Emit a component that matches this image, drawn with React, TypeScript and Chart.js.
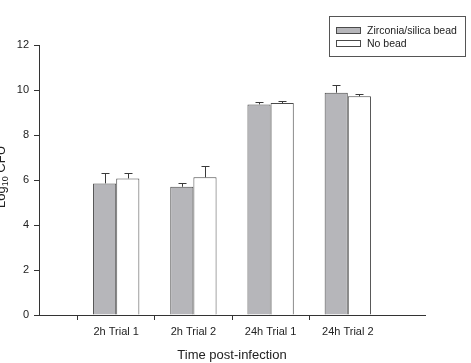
import React, { useEffect, useRef } from "react";
import { Chart, registerables } from "chart.js";

Chart.register(...registerables);

const categories = ["", "2h Trial 1", "2h Trial 2", "24h Trial 1", "24h Trial 2", ""];
const beadValues = [null, 5.85, 5.7, 9.36, 9.88, null];
const beadErrors = [0, 0.45, 0.15, 0.09, 0.34, 0];
const noBeadValues = [null, 6.07, 6.12, 9.42, 9.72, null];
const noBeadErrors = [0, 0.25, 0.52, 0.1, 0.08, 0];
const yTicks = [0, 2, 4, 6, 8, 10, 12];
const legendLabels = ["Zirconia/silica bead", "No bead"];
const xTitle = "Time post-infection";

const FONT = "'Liberation Sans', Arial, sans-serif";
const GRAY = "#b6b6ba";
const EDGE = "#4a4a4a";

const extrasPlugin = {
  id: "extras",
  afterDatasetsDraw(chart: any) {
    const ctx = chart.ctx;
    const errs = [beadErrors, noBeadErrors];
    ctx.save();
    ctx.strokeStyle = "#3a3a3a";
    ctx.lineWidth = 1;
    chart.data.datasets.forEach((ds: any, di: number) => {
      const meta = chart.getDatasetMeta(di);
      meta.data.forEach((bar: any, i: number) => {
        const v = ds.data[i];
        if (v == null) return;
        const e = errs[di][i];
        const x = Math.round(bar.x) + 0.5;
        const y0 = chart.scales.y.getPixelForValue(v);
        const y1 = Math.round(chart.scales.y.getPixelForValue(v + e)) + 0.5;
        ctx.beginPath();
        ctx.moveTo(x, y0);
        ctx.lineTo(x, y1);
        ctx.moveTo(x - 4, y1);
        ctx.lineTo(x + 4, y1);
        ctx.stroke();
      });
    });
    ctx.restore();
  },
  afterDraw(chart: any) {
    const ctx = chart.ctx;
    ctx.save();
    // legend box
    ctx.strokeStyle = "#555";
    ctx.lineWidth = 1;
    ctx.fillStyle = "#fff";
    ctx.fillRect(329.5, 16.5, 136, 40);
    ctx.strokeRect(329.5, 16.5, 136, 40);
    const fills = [GRAY, "#fff"];
    const ys = [27.5, 40.5];
    ctx.font = `10.5px ${FONT}`;
    ctx.textBaseline = "middle";
    legendLabels.forEach((lab, i) => {
      ctx.fillStyle = fills[i];
      ctx.fillRect(336.5, ys[i], 24, 6);
      ctx.strokeStyle = EDGE;
      ctx.strokeRect(336.5, ys[i], 24, 6);
      ctx.fillStyle = "#222";
      ctx.fillText(lab, 367, ys[i] + 3.5);
    });
    // y axis title (cut off at left edge)
    ctx.translate(5, 208);
    ctx.rotate(-Math.PI / 2);
    ctx.fillStyle = "#222";
    ctx.textBaseline = "alphabetic";
    ctx.font = `13px ${FONT}`;
    ctx.fillText("Log", 0, 0);
    let w = ctx.measureText("Log").width;
    ctx.font = `9px ${FONT}`;
    ctx.fillText("10", w, 3);
    w += ctx.measureText("10").width;
    ctx.font = `13px ${FONT}`;
    ctx.fillText(" CFU", w, 0);
    ctx.restore();
  },
};

export default function App() {
  const ref = useRef<HTMLCanvasElement | null>(null);
  useEffect(() => {
    document.body.style.margin = "0";
    const chart = new Chart(ref.current!, {
      type: "bar",
      data: {
        labels: categories,
        datasets: [
          {
            label: legendLabels[0],
            data: beadValues as any,
            backgroundColor: GRAY,
            borderColor: EDGE,
            borderWidth: 1,
            borderSkipped: "bottom",
            categoryPercentage: 0.6,
            barPercentage: 1,
          },
          {
            label: legendLabels[1],
            data: noBeadValues as any,
            backgroundColor: "#ffffff",
            borderColor: EDGE,
            borderWidth: 1,
            borderSkipped: "bottom",
            categoryPercentage: 0.6,
            barPercentage: 1,
          },
        ],
      },
      options: {
        responsive: false,
        animation: false,
        layout: { padding: { left: 0, right: 46, top: 45, bottom: 0 } },
        plugins: { legend: { display: false }, tooltip: { enabled: false } },
        scales: {
          x: {
            type: "category",
            offset: false,
            afterFit: (s: any) => {
              s.height = 48;
            },
            border: { display: true, color: "#333", width: 1 },
            grid: {
              display: true,
              drawOnChartArea: false,
              drawTicks: true,
              tickLength: 5,
              color: (c: any) =>
                c.index === 0 || c.index === categories.length - 1 ? "rgba(0,0,0,0)" : "#333",
            },
            ticks: {
              autoSkip: false,
              maxRotation: 0,
              padding: 5,
              color: "#222",
              font: { family: FONT, size: 11 },
            },
            title: {
              display: true,
              text: xTitle,
              color: "#222",
              font: { family: FONT, size: 13 },
              padding: { top: 6, bottom: 0 },
            },
          },
          y: {
            min: 0,
            max: 12,
            afterFit: (s: any) => {
              s.width = 39;
            },
            afterBuildTicks: (s: any) => {
              s.ticks = yTicks.map((v) => ({ value: v }));
            },
            border: { display: true, color: "#333", width: 1 },
            grid: {
              display: true,
              drawOnChartArea: false,
              drawTicks: true,
              tickLength: 5,
              color: "#333",
            },
            ticks: {
              padding: 5,
              color: "#222",
              font: { family: FONT, size: 11 },
            },
          },
        },
      },
      plugins: [extrasPlugin],
    });
    return () => chart.destroy();
  }, []);
  return <canvas ref={ref} width={471} height={363} style={{ display: "block" }} />;
}
